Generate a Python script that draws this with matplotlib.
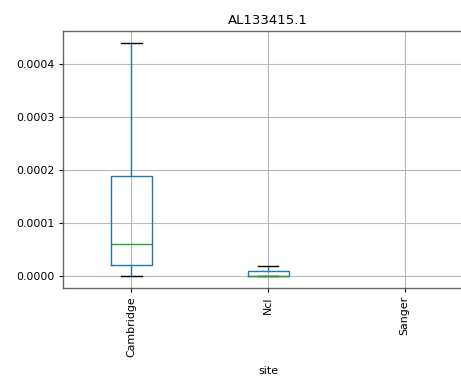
import matplotlib
matplotlib.use("Agg")
import matplotlib.pyplot as plt

# Data (box statistics)
sites = ["Cambridge", "Ncl", "Sanger"]
whislo = [0.0, 0.0, None]
q1 = [0.000022, 0.0000005, None]
med = [0.000061, 0.000001, None]
q3 = [0.000189, 0.0000095, None]
whishi = [0.00044, 0.00002, None]
title = "AL133415.1"
xlabel = "site"

S = 0.792  # scale from points to this figure's resolution
plt.rcParams.update({
    "font.family": "DejaVu Sans",
    "font.size": 10 * S,
    "axes.linewidth": 1.0,
    "xtick.major.size": 3.5 * S,
    "ytick.major.size": 3.5 * S,
    "xtick.major.width": 0.8,
    "ytick.major.width": 0.8,
    "grid.linewidth": 0.8,
})

fig = plt.figure(figsize=(4.61, 3.79), dpi=100)
ax = fig.add_axes([63 / 461, 1 - 287.5 / 379, (473 - 63) / 461, (287.5 - 31) / 379])

stats = []
pos = []
for i, s in enumerate(sites):
    if med[i] is None:
        continue
    stats.append(dict(med=med[i], q1=q1[i], q3=q3[i], whislo=whislo[i],
                      whishi=whishi[i], fliers=[], label=s))
    pos.append(i + 1)

lw = 1.0
ax.bxp(stats, positions=pos, widths=0.3, showfliers=False,
       boxprops=dict(color="#1f77b4", linewidth=lw),
       whiskerprops=dict(color="#1f77b4", linewidth=lw),
       capprops=dict(color="black", linewidth=lw),
       medianprops=dict(color="#2ca02c", linewidth=lw))

ax.set_xticks(range(1, len(sites) + 1))
ax.set_xticklabels(sites, rotation=90)
ax.set_xlim(0.5, len(sites) + 0.5)
ax.set_ylim(-0.0000214, 0.000463)
ax.set_yticks([0.0, 0.0001, 0.0002, 0.0003, 0.0004])
ax.set_yticklabels(["0.0000", "0.0001", "0.0002", "0.0003", "0.0004"])
ax.grid(True, color="#b8b8b8")
ax.set_axisbelow(True)
ax.set_title(title, fontsize=12 * S, pad=6 * S)
ax.set_xlabel(xlabel, labelpad=8 * S)
for sp in ax.spines.values():
    sp.set_color("#666666")

fig.savefig("out.png", dpi=100)
